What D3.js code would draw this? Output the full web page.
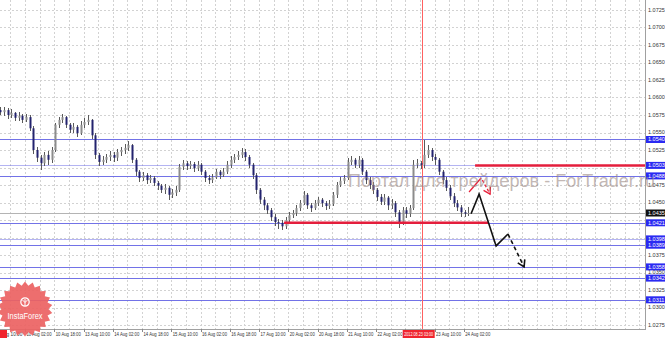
<!DOCTYPE html>
<html lang="en">
<head>
  <meta charset="UTF-8">
  <title>H1 chart</title>
  <script src="https://d3js.org/d3.v7.min.js"></script>
  <style>
    body { margin: 0; background: #fff; }
    svg { display: block; font-family: "Liberation Sans", Arial, sans-serif; }
    .grid line { stroke: #d2d2d2; stroke-width: 1; stroke-dasharray: 2,2; shape-rendering: crispEdges; }
    .level { stroke: #6a6ae6; stroke-width: 1; shape-rendering: crispEdges; }
    .wick { stroke: #5a5a5a; stroke-width: 1; shape-rendering: crispEdges; }
    .tick-label { font-size: 5.5px; fill: #333; }
    .time-label { font-size: 5px; fill: #333; }
  </style>
</head>
<body>
  <svg id="chart" width="665" height="338"></svg>

  <script>
    // 2-hour candles, first one starts at 9 Aug 12:00 (hour 2 after 9 Aug 10:00)
    const opens = [
      1.0582,1.0579,1.0582,1.0575,1.0578,1.0571,1.0574,1.0568,1.0572,1.0556,
      1.0525,1.0514,1.0506,1.0518,1.0511,1.0525,1.0561,1.0568,1.0572,1.0561,
      1.0554,1.0558,1.0549,1.0561,1.0565,1.0568,1.0546,1.0518,1.0508,1.0511,
      1.0515,1.0518,1.0514,1.0522,1.0525,1.0528,1.0532,1.0511,1.0494,1.0485,
      1.0489,1.0482,1.0485,1.0478,1.0474,1.0468,1.0471,1.0461,1.0464,1.0468,
      1.0501,1.0506,1.0502,1.0505,1.0499,1.0504,1.0494,1.0485,1.0482,1.0486,
      1.0494,1.0489,1.0494,1.0504,1.0511,1.0515,1.0518,1.0522,1.0515,1.0504,
      1.0489,1.0468,1.0454,1.0446,1.0439,1.0429,1.0422,1.0421,1.0416,1.0425,
      1.0432,1.0435,1.0442,1.0449,1.0461,1.0446,1.0442,1.0449,1.0454,1.0449,
      1.0445,1.0448,1.0461,1.0475,1.0481,1.0485,1.0508,1.0511,1.0504,1.0511,
      1.0494,1.0482,1.0475,1.0468,1.0458,1.0451,1.0457,1.0446,1.0449,1.0436,
      1.0422,1.0439,1.0434,1.0442,1.0504,1.0506,1.0504,1.0518,1.0525,1.0515,
      1.0511,1.0494,1.0482,1.0471,1.0459,1.0449,1.0443,1.0436,1.0434
    ];
    const highs = [
      1.0586,1.0587,1.0585,1.0583,1.0580,1.0579,1.0577,1.0577,1.0575,1.0559,
      1.0530,1.0518,1.0522,1.0523,1.0530,1.0564,1.0572,1.0577,1.0574,1.0564,
      1.0563,1.0561,1.0566,1.0571,1.0575,1.0570,1.0549,1.0521,1.0516,1.0520,
      1.0524,1.0522,1.0527,1.0530,1.0534,1.0538,1.0534,1.0514,1.0497,1.0494,
      1.0492,1.0490,1.0488,1.0481,1.0477,1.0476,1.0473,1.0469,1.0473,1.0505,
      1.0511,1.0510,1.0510,1.0508,1.0509,1.0507,1.0497,1.0489,1.0491,1.0498,
      1.0497,1.0499,1.0509,1.0516,1.0520,1.0524,1.0528,1.0526,1.0518,1.0507,
      1.0492,1.0471,1.0458,1.0450,1.0442,1.0433,1.0427,1.0425,1.0429,1.0436,
      1.0440,1.0447,1.0454,1.0466,1.0464,1.0450,1.0454,1.0458,1.0457,1.0452,
      1.0453,1.0465,1.0479,1.0486,1.0490,1.0514,1.0517,1.0514,1.0516,1.0514,
      1.0497,1.0486,1.0479,1.0471,1.0462,1.0462,1.0460,1.0455,1.0452,1.0439,
      1.0444,1.0443,1.0447,1.0511,1.0512,1.0510,1.0540,1.0532,1.0528,1.0520,
      1.0514,1.0497,1.0486,1.0475,1.0463,1.0453,1.0447,1.0440,1.0444
    ];
    const lows = [
      1.0575,1.0574,1.0570,1.0571,1.0566,1.0567,1.0563,1.0565,1.0552,1.0519,
      1.0508,1.0497,1.0502,1.0504,1.0507,1.0522,1.0556,1.0564,1.0556,1.0549,
      1.0550,1.0544,1.0546,1.0557,1.0561,1.0541,1.0512,1.0502,1.0503,1.0507,
      1.0510,1.0508,1.0510,1.0517,1.0520,1.0524,1.0506,1.0488,1.0479,1.0481,
      1.0477,1.0478,1.0473,1.0468,1.0463,1.0462,1.0454,1.0456,1.0459,1.0465,
      1.0497,1.0497,1.0498,1.0494,1.0495,1.0489,1.0480,1.0477,1.0478,1.0483,
      1.0484,1.0486,1.0491,1.0500,1.0507,1.0511,1.0514,1.0510,1.0499,1.0484,
      1.0462,1.0448,1.0440,1.0434,1.0424,1.0417,1.0412,1.0411,1.0412,1.0421,
      1.0428,1.0431,1.0438,1.0446,1.0441,1.0436,1.0439,1.0445,1.0444,1.0440,
      1.0441,1.0445,1.0457,1.0472,1.0477,1.0482,1.0503,1.0499,1.0500,1.0489,
      1.0477,1.0470,1.0462,1.0452,1.0446,1.0447,1.0440,1.0441,1.0430,1.0414,
      1.0418,1.0428,1.0430,1.0439,1.0499,1.0498,1.0500,1.0513,1.0510,1.0504,
      1.0489,1.0477,1.0466,1.0454,1.0444,1.0438,1.0430,1.0429,1.0431
    ];
    const closes = [
      1.0579,1.0582,1.0575,1.0578,1.0571,1.0574,1.0568,1.0572,1.0556,1.0525,
      1.0514,1.0506,1.0518,1.0511,1.0525,1.0561,1.0568,1.0572,1.0561,1.0554,
      1.0558,1.0549,1.0561,1.0565,1.0568,1.0546,1.0518,1.0508,1.0511,1.0515,
      1.0518,1.0514,1.0522,1.0525,1.0528,1.0532,1.0511,1.0494,1.0485,1.0489,
      1.0482,1.0485,1.0478,1.0474,1.0468,1.0471,1.0461,1.0464,1.0468,1.0501,
      1.0506,1.0502,1.0505,1.0499,1.0504,1.0494,1.0485,1.0482,1.0486,1.0494,
      1.0489,1.0494,1.0504,1.0511,1.0515,1.0518,1.0522,1.0515,1.0504,1.0489,
      1.0468,1.0454,1.0446,1.0439,1.0429,1.0422,1.0421,1.0416,1.0425,1.0432,
      1.0435,1.0442,1.0449,1.0461,1.0446,1.0442,1.0449,1.0454,1.0449,1.0445,
      1.0448,1.0461,1.0475,1.0481,1.0485,1.0508,1.0511,1.0504,1.0511,1.0494,
      1.0482,1.0475,1.0468,1.0458,1.0451,1.0457,1.0446,1.0449,1.0436,1.0422,
      1.0439,1.0434,1.0442,1.0504,1.0506,1.0504,1.0518,1.0525,1.0515,1.0511,
      1.0494,1.0482,1.0471,1.0459,1.0449,1.0443,1.0436,1.0434,1.0435
    ];

    // time labels, one every 16 hourly bars starting at 9 Aug 10:00
    const timeLabels = [
      "9 Aug 10:00", "10 Aug 02:00", "10 Aug 18:00", "13 Aug 10:00", "14 Aug 02:00",
      "14 Aug 18:00", "15 Aug 10:00", "16 Aug 02:00", "16 Aug 18:00", "17 Aug 10:00",
      "20 Aug 02:00", "20 Aug 18:00", "21 Aug 10:00", "22 Aug 02:00", "22 Aug 18:00",
      "23 Aug 10:00", "24 Aug 02:00"
    ];
    const priceTicks = [
      1.0275, 1.0300, 1.0325, 1.0350, 1.0375, 1.0400, 1.0425, 1.0450, 1.0475, 1.0500,
      1.0525, 1.0550, 1.0575, 1.0600, 1.0625, 1.0650, 1.0675, 1.0700, 1.0725
    ];

    // horizontal levels drawn on the chart
    const levels = [1.0540, 1.0503, 1.0488, 1.0421, 1.0398, 1.0389, 1.0358, 1.0342, 1.0311];
    const lightLevels = [1.0503, 1.0398];
    const currentPrice = 1.0435;

    // crosshair / separator
    const markerHour = 233;
    const markerLabel = "2012.08.23 03:00";

    // red support / resistance segments: [fromHour, toHour, price]
    const redSegments = [[157.7, 269.3, 1.0421], [262.2, 360, 1.0503]];

    // forecast paths: [hour, price]
    const blackSolid = [[260.0, 1.0434], [264.4, 1.0462], [273.7, 1.0388], [280.2, 1.0405]];
    const blackDashed = [[280.2, 1.0405], [289.0, 1.0358]];
    const redSolid = [[258.9, 1.0465], [265.5, 1.0485]];
    const redDashed = [[266.2, 1.0482], [270.4, 1.0462]];

    const watermark = "Портал для трейдеров - ForTrader.ru";

    const plotRight = 645, plotBottom = 329;
    const hourPx = 29.25 / 16;

    const svg = d3.select("#chart");

    const x = d3.scaleLinear().domain([0, 16]).range([-4.25, -4.25 + 16 * hourPx]);
    const y = d3.scaleLinear().domain([1.0275, 1.0725]).range([325, 10]);

    const defs = svg.append("defs");
    defs.append("clipPath").attr("id", "clip")
      .append("rect").attr("width", plotRight).attr("height", plotBottom);

    const plot = svg.append("g").attr("clip-path", "url(#clip)");

    // grid
    const grid = plot.append("g").attr("class", "grid");
    const gridHours = d3.range(0, 360, 8);
    grid.selectAll("line.v").data(gridHours).enter().append("line")
      .attr("x1", d => Math.round(x(d)) + 0.5).attr("x2", d => Math.round(x(d)) + 0.5)
      .attr("y1", 0).attr("y2", plotBottom);
    grid.selectAll("line.h").data(priceTicks).enter().append("line")
      .attr("x1", 0).attr("x2", plotRight)
      .attr("y1", d => Math.round(y(d)) + 0.5).attr("y2", d => Math.round(y(d)) + 0.5);

    // level lines
    plot.selectAll("line.level").data(levels).enter().append("line")
      .attr("class", "level")
      .attr("x1", 0).attr("x2", plotRight)
      .attr("y1", d => Math.round(y(d)) + 0.5).attr("y2", d => Math.round(y(d)) + 0.5)
      .attr("stroke-opacity", d => lightLevels.includes(d) ? 0.5 : 0.95);

    plot.append("line")
      .attr("x1", 0).attr("x2", plotRight)
      .attr("y1", Math.round(y(currentPrice)) + 0.5).attr("y2", Math.round(y(currentPrice)) + 0.5)
      .attr("stroke", "#b4b4b4").attr("shape-rendering", "crispEdges");

    // vertical marker
    plot.append("line")
      .attr("x1", Math.round(x(markerHour)) + 0.5).attr("x2", Math.round(x(markerHour)) + 0.5)
      .attr("y1", 0).attr("y2", plotBottom)
      .attr("stroke", "#ff6060").attr("shape-rendering", "crispEdges");

    // candles
    const bars = closes.map((c, i) => ({
      hour: 2 * (i + 1) + 0.5, o: opens[i], h: highs[i], l: lows[i], c: c
    }));
    const candle = plot.append("g").selectAll("g").data(bars).enter().append("g");
    candle.append("line").attr("class", "wick")
      .attr("x1", d => Math.round(x(d.hour)) + 0.5).attr("x2", d => Math.round(x(d.hour)) + 0.5)
      .attr("y1", d => y(Math.max(d.h, d.o, d.c))).attr("y2", d => y(Math.min(d.l, d.o, d.c)));
    candle.append("rect")
      .attr("x", d => Math.round(x(d.hour)) - 0.5)
      .attr("width", 2)
      .attr("y", d => y(Math.max(d.o, d.c)))
      .attr("height", d => Math.max(1, y(Math.min(d.o, d.c)) - y(Math.max(d.o, d.c))))
      .attr("fill", d => d.c >= d.o ? "#8c8c8c" : "#23236e");

    // red segments
    plot.selectAll("line.red").data(redSegments).enter().append("line")
      .attr("x1", d => x(d[0])).attr("x2", d => x(d[1]))
      .attr("y1", d => y(d[2])).attr("y2", d => y(d[2]))
      .attr("stroke", "#e41e3c").attr("stroke-width", 2.5);

    // forecast arrows
    const line = d3.line().x(d => x(d[0])).y(d => y(d[1]));
    function arrowHead(pts, color, width) {
      const a = pts[pts.length - 2], b = pts[pts.length - 1];
      const ax = x(a[0]), ay = y(a[1]), bx = x(b[0]), by = y(b[1]);
      const ang = Math.atan2(by - ay, bx - ax);
      const len = 7.5;
      const wing = s => [bx - len * Math.cos(ang + s), by - len * Math.sin(ang + s)];
      const w1 = wing(0.55), w2 = wing(-0.55);
      plot.append("path")
        .attr("d", `M${w1[0]},${w1[1]}L${bx},${by}L${w2[0]},${w2[1]}`)
        .attr("fill", "none").attr("stroke", color).attr("stroke-width", width);
    }
    plot.append("path").attr("d", line(blackSolid))
      .attr("fill", "none").attr("stroke", "#111").attr("stroke-width", 1.6);
    plot.append("path").attr("d", line(blackDashed))
      .attr("fill", "none").attr("stroke", "#111").attr("stroke-width", 1.6)
      .attr("stroke-dasharray", "4,3");
    arrowHead(blackDashed, "#111", 1.6);

    plot.append("path").attr("d", line(redSolid))
      .attr("fill", "none").attr("stroke", "#e8203a").attr("stroke-width", 1.3);
    plot.append("path").attr("d", line(redDashed))
      .attr("fill", "none").attr("stroke", "#e8203a").attr("stroke-width", 1.3)
      .attr("stroke-dasharray", "3,2");
    arrowHead(redDashed, "#e8203a", 1.3);

    // frame
    svg.append("line").attr("x1", plotRight + 0.5).attr("x2", plotRight + 0.5)
      .attr("y1", 0).attr("y2", plotBottom + 1).attr("stroke", "#a0a0a0");
    svg.append("line").attr("x1", 0).attr("x2", plotRight)
      .attr("y1", plotBottom + 0.5).attr("y2", plotBottom + 0.5).attr("stroke", "#a0a0a0");

    // price axis: plain ticks that a level box would hide are skipped
    const boxes = levels.map(v => ({ v: v, fill: "#2a2af2" }))
      .concat([{ v: currentPrice, fill: "#111" }]);
    const freeTicks = priceTicks.filter(t => boxes.every(b => Math.abs(y(b.v) - y(t)) > 5));
    const axis = svg.append("g");
    axis.selectAll("text").data(freeTicks).enter().append("text")
      .attr("class", "tick-label")
      .attr("x", 648).attr("y", d => y(d)).attr("dy", "0.35em")
      .text(d => d.toFixed(4));

    const box = axis.selectAll("g.box").data(boxes).enter().append("g");
    box.append("rect")
      .attr("x", 646).attr("width", 19)
      .attr("y", d => y(d.v) - 3.5).attr("height", 7)
      .attr("fill", d => d.fill);
    box.append("text")
      .attr("x", 648).attr("y", d => y(d.v)).attr("dy", "0.35em")
      .attr("font-size", 5.5).attr("fill", "#fff")
      .text(d => d.v.toFixed(4));

    // watermark over the chart and the price scale
    svg.append("text")
      .attr("x", 348).attr("y", 187)
      .attr("font-size", 19)
      .attr("textLength", 307).attr("lengthAdjust", "spacingAndGlyphs")
      .attr("fill", "#9a8884").attr("fill-opacity", 0.6)
      .text(watermark);

    // time axis; labels hidden by the red boxes are clipped to the visible part
    const mx = x(markerHour);
    const boxL = mx - 19, boxR = mx + 13;
    defs.append("clipPath").attr("id", "tclip")
      .append("path")
      .attr("d", `M7,329H${boxL}V338H7ZM${boxR},329H${plotRight + 20}V338H${boxR}Z`);

    const tAxis = svg.append("g");
    const labelled = timeLabels.map((t, k) => ({ t: t, hour: 16 * k }))
      .filter(d => x(d.hour) + 25 < boxL || x(d.hour) > boxL);
    tAxis.selectAll("line").data(labelled).enter().append("line")
      .attr("x1", d => Math.round(x(d.hour)) + 0.5).attr("x2", d => Math.round(x(d.hour)) + 0.5)
      .attr("y1", plotBottom).attr("y2", plotBottom + 3).attr("stroke", "#888");
    tAxis.append("g").attr("clip-path", "url(#tclip)")
      .selectAll("text").data(labelled.filter(d => x(d.hour) + 25 < boxL || x(d.hour) + 25 > boxR))
      .enter().append("text")
      .attr("class", "time-label")
      .attr("x", d => x(d.hour) + 1.5).attr("y", 336)
      .attr("textLength", 25).attr("lengthAdjust", "spacingAndGlyphs")
      .text(d => d.t);

    // crosshair time box
    tAxis.append("rect").attr("x", boxL).attr("y", 330).attr("width", boxR - boxL).attr("height", 8)
      .attr("fill", "#f0242e");
    tAxis.append("text").attr("x", (boxL + boxR) / 2).attr("y", 336).attr("text-anchor", "middle")
      .attr("font-size", 5).attr("textLength", 29).attr("lengthAdjust", "spacingAndGlyphs")
      .attr("fill", "#fff").text(markerLabel);
    tAxis.append("rect").attr("x", 0).attr("y", 330).attr("width", 7).attr("height", 8)
      .attr("fill", "#f0242e");

    // InstaForex badge
    const badge = svg.append("g").attr("transform", "translate(25,309)");
    const spikes = 22;
    const star = d3.range(spikes * 2).map(k => {
      const r = k % 2 ? 23.5 : 27.5;
      const a = Math.PI * k / spikes;
      return [Math.sin(a) * r, -Math.cos(a) * r];
    });
    badge.append("path").attr("d", d3.line().curve(d3.curveLinearClosed)(star))
      .attr("fill", "#ec6262").attr("fill-opacity", 0.92);
    badge.append("circle").attr("cx", 0).attr("cy", -7).attr("r", 4.2)
      .attr("fill", "none").attr("stroke", "#fff").attr("stroke-width", 1.2);
    badge.append("path").attr("d", "M0,-10V-3M-2.5,-9L0,-6.5L2.5,-9")
      .attr("fill", "none").attr("stroke", "#fff").attr("stroke-width", 1);
    badge.append("text").attr("x", 0).attr("y", 10).attr("text-anchor", "middle")
      .attr("font-size", 8.5).attr("textLength", 35).attr("lengthAdjust", "spacingAndGlyphs")
      .attr("fill", "#fff").text("InstaForex");
  </script>
</body>
</html>
